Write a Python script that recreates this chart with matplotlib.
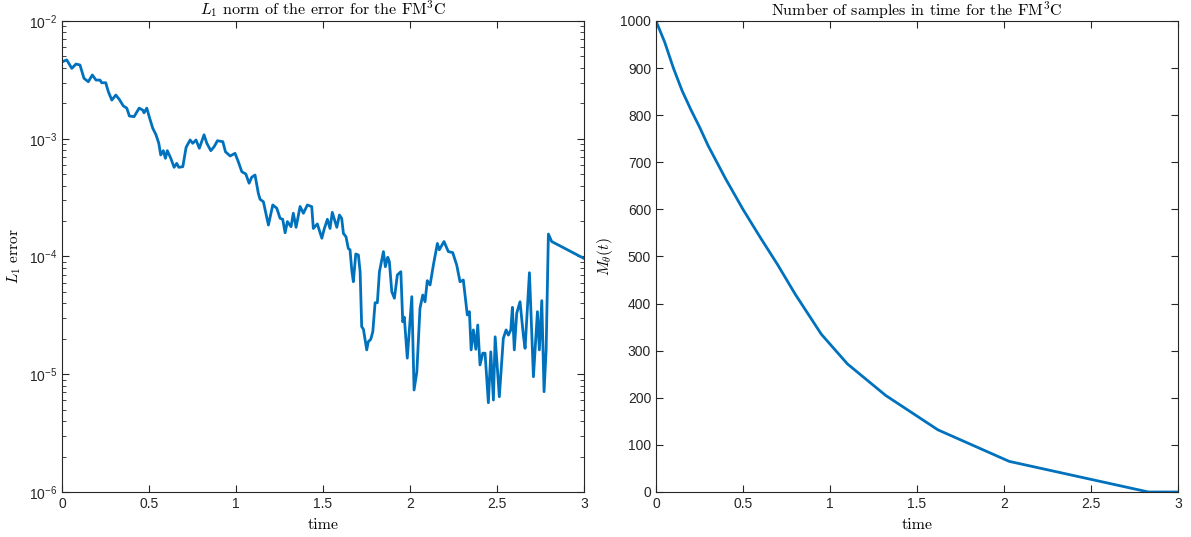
import numpy as np
import matplotlib
matplotlib.use('Agg')
import matplotlib.pyplot as plt
from matplotlib.ticker import FuncFormatter, LogLocator, NullFormatter, MultipleLocator

plt.rcParams['font.family'] = ['Liberation Sans', 'DejaVu Sans']

# L1 error of the FM3C (left panel)
err_time = [0.000, 0.027, 0.056, 0.080, 0.103, 0.126, 0.151, 0.174, 0.195, 0.218,
            0.228, 0.251, 0.266, 0.286, 0.309, 0.329, 0.352, 0.372, 0.387, 0.414,
            0.443, 0.464, 0.471, 0.487, 0.502, 0.521, 0.540, 0.556, 0.567, 0.582,
            0.594, 0.605, 0.625, 0.644, 0.659, 0.671, 0.694, 0.713, 0.736, 0.751,
            0.770, 0.789, 0.816, 0.832, 0.855, 0.874, 0.893, 0.924, 0.939, 0.966,
            0.994, 1.013, 1.033, 1.056, 1.075, 1.090, 1.109, 1.128, 1.138, 1.157,
            1.186, 1.211, 1.234, 1.253, 1.268, 1.282, 1.295, 1.316, 1.329, 1.345,
            1.368, 1.387, 1.410, 1.435, 1.444, 1.467, 1.493, 1.506, 1.525, 1.540,
            1.553, 1.579, 1.594, 1.607, 1.617, 1.632, 1.645, 1.655, 1.665, 1.674,
            1.688, 1.703, 1.713, 1.722, 1.732, 1.751, 1.760, 1.774, 1.786, 1.799,
            1.812, 1.824, 1.847, 1.858, 1.872, 1.881, 1.895, 1.910, 1.927, 1.947,
            1.958, 1.967, 1.984, 2.010, 2.023, 2.039, 2.057, 2.073, 2.086, 2.099,
            2.115, 2.134, 2.157, 2.168, 2.195, 2.220, 2.245, 2.268, 2.287, 2.306,
            2.329, 2.341, 2.351, 2.364, 2.378, 2.389, 2.402, 2.418, 2.431, 2.450,
            2.464, 2.479, 2.489, 2.513, 2.536, 2.552, 2.565, 2.579, 2.588, 2.599,
            2.613, 2.632, 2.651, 2.661, 2.686, 2.709, 2.732, 2.743, 2.757, 2.770,
            2.782, 2.795, 2.814, 3.000]
err_l1 = [4.50e-3, 4.67e-3, 3.96e-3, 4.31e-3, 4.23e-3, 3.26e-3, 3.05e-3, 3.48e-3, 3.15e-3, 3.15e-3,
          2.99e-3, 2.99e-3, 2.51e-3, 2.13e-3, 2.35e-3, 2.16e-3, 1.90e-3, 1.82e-3, 1.56e-3, 1.54e-3,
          1.82e-3, 1.75e-3, 1.66e-3, 1.82e-3, 1.52e-3, 1.23e-3, 1.08e-3, 9.15e-4, 7.28e-4, 7.92e-4,
          6.82e-4, 7.92e-4, 6.82e-4, 5.72e-4, 6.18e-4, 5.72e-4, 5.79e-4, 8.46e-4, 9.76e-4, 9.15e-4,
          9.76e-4, 8.30e-4, 1.08e-3, 9.15e-4, 7.92e-4, 8.56e-4, 9.62e-4, 9.44e-4, 7.76e-4, 7.14e-4,
          7.52e-4, 6.38e-4, 5.25e-4, 5.02e-4, 4.19e-4, 4.71e-4, 4.92e-4, 3.44e-4, 3.06e-4, 2.92e-4,
          1.85e-4, 2.74e-4, 2.57e-4, 2.11e-4, 2.07e-4, 1.59e-4, 1.98e-4, 1.79e-4, 2.33e-4, 1.77e-4,
          2.66e-4, 2.33e-4, 2.74e-4, 2.65e-4, 1.73e-4, 1.89e-4, 1.43e-4, 1.70e-4, 2.07e-4, 1.73e-4,
          2.37e-4, 1.77e-4, 2.25e-4, 2.11e-4, 1.57e-4, 1.47e-4, 1.17e-4, 1.14e-4, 7.68e-5, 6.11e-5,
          1.05e-4, 1.03e-4, 7.43e-5, 2.54e-5, 2.41e-5, 1.61e-5, 1.89e-5, 1.98e-5, 2.30e-5, 4.05e-5,
          4.05e-5, 7.43e-5, 1.10e-4, 8.19e-5, 9.85e-5, 9.04e-5, 5.02e-5, 4.42e-5, 6.97e-5, 7.43e-5,
          2.79e-5, 3.05e-5, 1.37e-5, 4.56e-5, 7.35e-6, 1.05e-5, 3.63e-5, 4.71e-5, 4.13e-5, 6.23e-5,
          5.73e-5, 8.47e-5, 1.29e-4, 1.14e-4, 1.34e-4, 1.10e-4, 1.08e-4, 8.47e-5, 6.11e-5, 6.31e-5,
          3.19e-5, 3.40e-5, 1.61e-5, 2.38e-5, 1.63e-5, 2.62e-5, 1.20e-5, 1.51e-5, 1.51e-5, 5.73e-6,
          1.55e-5, 6.04e-6, 2.08e-5, 6.44e-6, 2.02e-5, 2.38e-5, 2.15e-5, 2.38e-5, 3.70e-5, 1.61e-5,
          3.30e-5, 4.13e-5, 2.15e-5, 1.66e-5, 7.28e-5, 9.53e-6, 3.40e-5, 1.61e-5, 4.22e-5, 7.11e-6,
          1.61e-5, 1.55e-4, 1.34e-4, 9.62e-5]

# number of samples M_theta(t) (right panel)
samp_time = [0.0, 0.05, 0.1, 0.15, 0.2, 0.25, 0.3, 0.4, 0.5, 0.6, 0.7, 0.8,
             0.95, 1.1, 1.32, 1.62, 2.03, 2.83, 3.0]
samp_count = [1000, 955, 900, 852, 812, 775, 735, 665, 600, 540, 482, 420,
              335, 272, 205, 132, 65, 0, 0]

BLUE = '#0072BD'
AXC = '#262626'


def style_axes(ax):
    for s in ax.spines.values():
        s.set_color(AXC)
        s.set_linewidth(0.8)
    ax.tick_params(which='both', direction='in', top=True, right=True,
                   colors=AXC, labelsize=10, labelcolor='#262626')
    ax.tick_params(which='major', length=5)
    ax.tick_params(which='minor', length=3)
    ax.set_xlim(0, 3)
    ax.xaxis.set_major_locator(MultipleLocator(0.5))
    ax.xaxis.set_major_formatter(FuncFormatter(lambda v, p: '%g' % v))
    ax.set_xlabel('time', family='cmr10', fontsize=11.5, labelpad=5)


fig = plt.figure(figsize=(11.91, 5.37), dpi=100)
ax1 = fig.add_axes([0.0521, 0.0838, 0.4383, 0.8771])
ax2 = fig.add_axes([0.5508, 0.0838, 0.4383, 0.8771])

# left: log error
ax1.semilogy(err_time, err_l1, color=BLUE, lw=2)
ax1.set_ylim(1e-6, 1e-2)
style_axes(ax1)
ax1.yaxis.set_major_locator(LogLocator(base=10, numticks=10))
ax1.yaxis.set_minor_locator(LogLocator(base=10, subs=np.arange(2, 10), numticks=10))
ax1.yaxis.set_minor_formatter(NullFormatter())
ax1.yaxis.set_major_formatter(FuncFormatter(lambda v, p: r'$\mathregular{10^{%d}}$' % round(np.log10(v))))
ax1.set_title(r'$L_1$ norm of the error for the FM$^3$C', family='cmr10',
              math_fontfamily='cm', fontsize=11.5, pad=4)
ax1.set_ylabel(r'$L_1$ error', family='cmr10', math_fontfamily='cm', fontsize=11, labelpad=4)

# right: number of samples
ax2.plot(samp_time, samp_count, color=BLUE, lw=2)
ax2.set_ylim(0, 1000)
style_axes(ax2)
ax2.yaxis.set_major_locator(MultipleLocator(100))
ax2.set_title(r'Number of samples in time for the FM$^3$C', family='cmr10',
              math_fontfamily='cm', fontsize=11.5, pad=4)
ax2.set_ylabel(r'$M_\theta(t)$', math_fontfamily='cm', fontsize=11, labelpad=4)

fig.savefig('out.png', dpi=100)
